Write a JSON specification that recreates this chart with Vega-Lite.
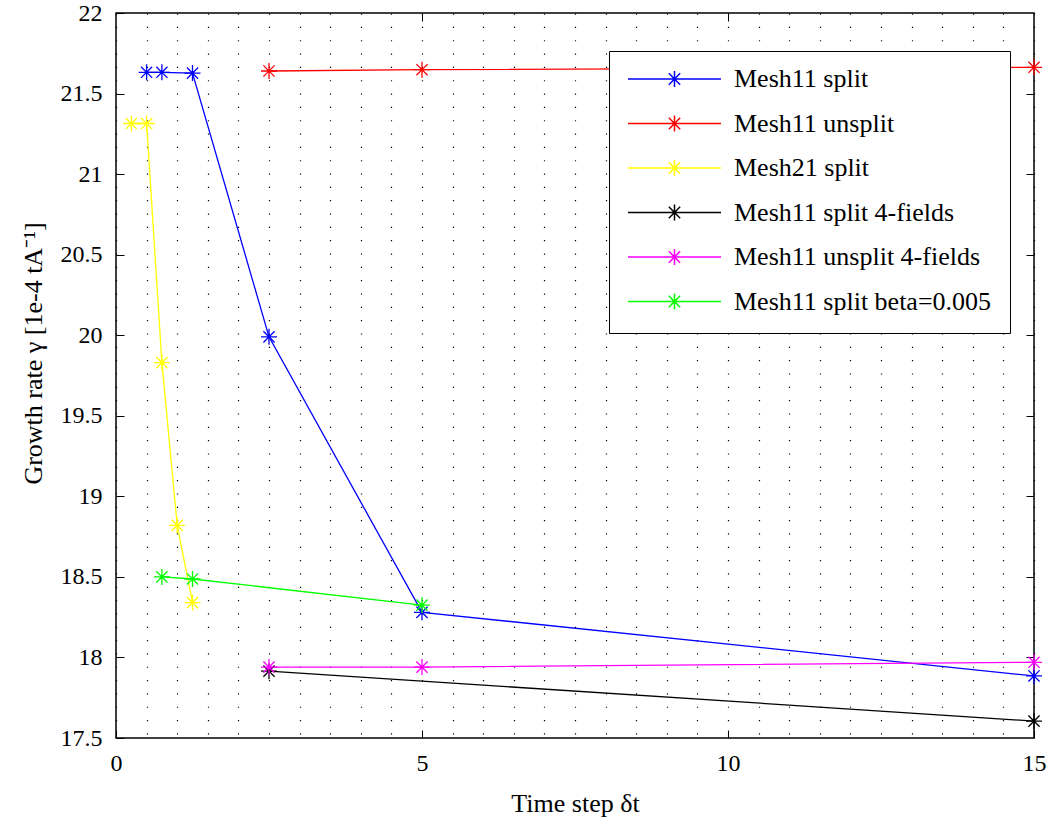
{
  "$schema": "https://vega.github.io/schema/vega-lite/v6.json",
  "width": 918,
  "height": 725,
  "autosize": {"type": "none"},
  "padding": {"left": 116, "top": 13, "right": 18, "bottom": 85},
  "background": "white",
  "config": {
    "view": {"stroke": "black", "strokeWidth": 1.5},
    "font": "Liberation Serif",
    "axis": {"labelFont": "Liberation Serif", "titleFont": "Liberation Serif"},
    "legend": {"strokeColor": "black", "fillColor": "white", "labelFont": "Liberation Serif"}
  },
  "data": {
    "values": [
      {"series": "Mesh11 split", "dt": 0.5, "gamma": 21.632},
      {"series": "Mesh11 split", "dt": 0.75, "gamma": 21.632},
      {"series": "Mesh11 split", "dt": 1.25, "gamma": 21.627},
      {"series": "Mesh11 split", "dt": 2.5, "gamma": 19.99},
      {"series": "Mesh11 split", "dt": 5, "gamma": 18.28},
      {"series": "Mesh11 split", "dt": 15, "gamma": 17.885},
      {"series": "Mesh11 unsplit", "dt": 2.5, "gamma": 21.64},
      {"series": "Mesh11 unsplit", "dt": 5, "gamma": 21.648},
      {"series": "Mesh11 unsplit", "dt": 15, "gamma": 21.663},
      {"series": "Mesh21 split", "dt": 0.25, "gamma": 21.314},
      {"series": "Mesh21 split", "dt": 0.5, "gamma": 21.314},
      {"series": "Mesh21 split", "dt": 0.75, "gamma": 19.83},
      {"series": "Mesh21 split", "dt": 1.0, "gamma": 18.82},
      {"series": "Mesh21 split", "dt": 1.25, "gamma": 18.34},
      {"series": "Mesh11 split 4-fields", "dt": 2.5, "gamma": 17.915},
      {"series": "Mesh11 split 4-fields", "dt": 15, "gamma": 17.605},
      {"series": "Mesh11 unsplit 4-fields", "dt": 2.5, "gamma": 17.94},
      {"series": "Mesh11 unsplit 4-fields", "dt": 5, "gamma": 17.94},
      {"series": "Mesh11 unsplit 4-fields", "dt": 15, "gamma": 17.97},
      {"series": "Mesh11 split beta=0.005", "dt": 0.75, "gamma": 18.5},
      {"series": "Mesh11 split beta=0.005", "dt": 1.25, "gamma": 18.487},
      {"series": "Mesh11 split beta=0.005", "dt": 5, "gamma": 18.325}
    ]
  },
  "layer": [
    {
      "encoding": {
        "x": {
          "field": "dt",
          "type": "quantitative",
          "scale": {"domain": [0, 15], "nice": false, "zero": false},
          "axis": {
            "orient": "bottom",
            "values": [0, 0.5, 1, 1.5, 2, 2.5, 3, 3.5, 4, 4.5, 5, 5.5, 6, 6.5, 7, 7.5, 8, 8.5, 9, 9.5, 10, 10.5, 11, 11.5, 12, 12.5, 13, 13.5, 14, 14.5, 15],
            "format": "~g",
            "labelExpr": "datum.value % 5 == 0 ? datum.label : ''",
            "labelOverlap": false,
            "labelFlush": false,
            "labelFont": "Liberation Serif",
            "labelFontSize": 24,
            "labelColor": "black",
            "labelPadding": 21,
            "tickSize": -8,
            "tickColor": "black",
            "tickWidth": 1,
            "tickOpacity": {"condition": {"test": "datum.value % 5 == 0", "value": 1}, "value": 0},
            "domain": false,
            "grid": true,
            "gridColor": "black",
            "gridWidth": 1.2,
            "gridDash": [1.2, 12.13],
            "gridOpacity": 1,
            "title": "Time step δt",
            "titleFont": "Liberation Serif",
            "titleFontSize": 26,
            "titleFontWeight": "normal",
            "titleColor": "black",
            "titlePadding": 15
          }
        },
        "y": {
          "field": "gamma",
          "type": "quantitative",
          "scale": {"domain": [17.5, 22], "nice": false, "zero": false},
          "axis": {
            "orient": "left",
            "values": [17.5, 18, 18.5, 19, 19.5, 20, 20.5, 21, 21.5, 22],
            "format": ".1~f",
            "labelFlush": false,
            "labelOverlap": false,
            "labelFont": "Liberation Serif",
            "labelFontSize": 24,
            "labelColor": "black",
            "labelPadding": 22,
            "tickSize": -8,
            "tickColor": "black",
            "tickWidth": 1,
            "domain": false,
            "grid": false,
            "title": "Growth rate γ [1e-4 tA⁻¹]",
            "titleFont": "Liberation Serif",
            "titleFontSize": 26,
            "titleFontWeight": "normal",
            "titleColor": "black",
            "titlePadding": 14,
            "titleY": 340
          }
        },
        "color": {
          "field": "series",
          "type": "nominal",
          "scale": {
            "domain": ["Mesh11 split", "Mesh11 unsplit", "Mesh21 split", "Mesh11 split 4-fields", "Mesh11 unsplit 4-fields", "Mesh11 split beta=0.005"],
            "range": ["#0000ff", "#ff0000", "#ffff00", "#000000", "#ff00ff", "#00ff00"]
          },
          "legend": {
            "orient": "none",
            "legendX": 493,
            "legendY": 38,
            "title": null,
            "symbolType": "M-1,0H1M0,-0.172V0.172M-0.122,-0.122L0.122,0.122M-0.122,0.122L0.122,-0.122",
            "symbolSize": 8649,
            "symbolStrokeWidth": 1.5,
            "symbolOpacity": 1,
            "labelFontSize": 26,
            "labelFont": "Liberation Serif",
            "labelColor": "black",
            "labelOffset": 12,
            "labelLimit": 0,
            "clipHeight": 20,
            "rowPadding": 18.5,
            "padding": 18,
            "strokeColor": "black",
            "fillColor": "white"
          }
        }
      },
      "layer": [
        {"mark": {"type": "line", "strokeWidth": 1.3}},
        {"mark": {"type": "point", "shape": "M-1,0H1M0,-1V1M-0.7,-0.7L0.7,0.7M-0.7,0.7L0.7,-0.7", "size": 256, "filled": false, "strokeWidth": 1.3, "opacity": 1}}
      ]
    },
    {
      "mark": {"type": "point", "opacity": 0},
      "encoding": {
        "x": {
          "field": "dt",
          "type": "quantitative",
          "scale": {"domain": [0, 15], "nice": false, "zero": false},
          "axis": {
            "orient": "top",
            "values": [5, 10],
            "labels": false,
            "tickSize": -8,
            "tickColor": "black",
            "tickWidth": 1,
            "domain": false,
            "grid": false,
            "title": null
          }
        },
        "y": {
          "field": "gamma",
          "type": "quantitative",
          "scale": {"domain": [17.5, 22], "nice": false, "zero": false},
          "axis": {
            "orient": "right",
            "values": [18, 18.5, 19, 19.5, 20, 20.5, 21, 21.5],
            "labels": false,
            "tickSize": -8,
            "tickColor": "black",
            "tickWidth": 1,
            "domain": false,
            "grid": false,
            "title": null
          }
        }
      }
    }
  ],
  "resolve": {"axis": {"x": "independent", "y": "independent"}}
}
